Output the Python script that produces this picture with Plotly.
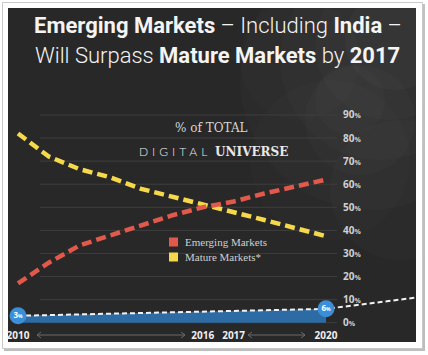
import plotly.graph_objects as go

# ---------------- data ----------------
years = [2010, 2011, 2012, 2013, 2014, 2015, 2016, 2017, 2018, 2019, 2020]
emerging = [17, 26, 33.5, 38, 42.5, 46.5, 50, 52.5, 56, 59, 62]
mature = [82, 72, 66.5, 63, 58, 54.5, 51.5, 48, 44.5, 41, 37.5]
digital_years = [2010, 2020, 2023]
digital = [3, 6, 11]
bubble_years = [2010, 2020]
bubble_values = [3, 6]
y_ticks = [0, 10, 20, 30, 40, 50, 60, 70, 80, 90]
x_ticks = [2010, 2016, 2017, 2020]
x_labels = ["2010", "2016", "2017", "2020"]
series_names = ["Emerging Markets", "Mature Markets*"]
series_colors = ["#e2594b", "#f6d94b"]

W, H = 428, 355
L, R, T, B = 8, 12, 8, 13
PW, PH = W - L - R, H - T - B


def PX(px):
    return (px - L) / PW


def PY(py):
    return (H - B - py) / PH


X_RANGE = [2009.675, 2022.922]
Y_RANGE = [-8.36, 136.35]

fig = go.Figure()

fig.add_trace(go.Scatter(x=bubble_years, y=bubble_values, mode="lines", fill="tozeroy",
                         fillcolor="#2c6ba3", line=dict(width=0, color="#2c6ba3"),
                         hoverinfo="skip", showlegend=False))
fig.add_trace(go.Scatter(x=digital_years, y=digital, mode="lines",
                         line=dict(color="#f2f2f2", width=2, dash="5px,3px"), showlegend=False))
fig.add_trace(go.Scatter(x=years, y=mature, mode="lines", name=series_names[1],
                         line=dict(color=series_colors[1], width=4.5, dash="10px,5px"), showlegend=False))
fig.add_trace(go.Scatter(x=years, y=emerging, mode="lines", name=series_names[0],
                         line=dict(color=series_colors[0], width=4.5, dash="10px,5px"), showlegend=False))
fig.add_trace(go.Scatter(x=bubble_years, y=bubble_values, mode="markers+text",
                         marker=dict(size=17, color="#3b8fd8"),
                         text=[f"<b>{v}<span style='font-size:5px'>%</span></b>" for v in bubble_values],
                         textposition="middle center",
                         textfont=dict(family="Open Sans", size=8, color="white"),
                         showlegend=False, cliponaxis=False))
# invisible trace to carry the right-hand percentage axis
fig.add_trace(go.Scatter(x=[years[0]], y=[y_ticks[0]], yaxis="y2", mode="markers",
                         marker=dict(opacity=0), hoverinfo="skip", showlegend=False))

shapes = []
shapes.append(dict(type="rect", xref="paper", yref="paper", x0=PX(4), x1=PX(425), y0=PY(351), y1=PY(4),
                   line=dict(width=0), fillcolor="#bdbdbd", layer="below"))
shapes.append(dict(type="rect", xref="paper", yref="paper", x0=PX(2.5), x1=PX(422.5), y0=PY(348.5), y1=PY(2.5),
                   line=dict(width=1, color="#c8c8c8"), fillcolor="white", layer="below"))
shapes.append(dict(type="rect", xref="paper", yref="paper", x0=0, x1=1, y0=0, y1=1,
                   line=dict(width=0), fillcolor="#282828", layer="below"))
for cx, cy, r, op in [(370, 80, 130, 0.015), (380, 60, 100, 0.015), (390, 45, 75, 0.015),
                      (395, 40, 50, 0.02), (330, 160, 80, 0.012), (400, 190, 70, 0.015),
                      (300, 60, 60, 0.012), (360, 120, 55, 0.015), (350, 100, 35, 0.015)]:
    shapes.append(dict(type="circle", xref="paper", yref="paper", x0=PX(cx - r), x1=PX(cx + r),
                       y0=PY(cy + r), y1=PY(cy - r), line=dict(width=0),
                       fillcolor=f"rgba(255,255,255,{op})", layer="below"))
for v in y_ticks:
    shapes.append(dict(type="line", xref="paper", yref="y", x0=PX(40), x1=PX(337), y0=v, y1=v,
                       line=dict(color="#3e3e3e", width=1), layer="below"))


def arrow(px0, px1, py):
    c = "#6a6a6a"
    shapes.append(dict(type="line", xref="paper", yref="paper", x0=PX(px0), x1=PX(px1), y0=PY(py), y1=PY(py),
                       line=dict(color=c, width=1)))
    shapes.append(dict(type="path", xref="paper", yref="paper",
                       path=f"M {PX(px0+4)} {PY(py-3)} L {PX(px0)} {PY(py)} L {PX(px0+4)} {PY(py+3)}",
                       line=dict(color=c, width=1)))
    shapes.append(dict(type="path", xref="paper", yref="paper",
                       path=f"M {PX(px1-4)} {PY(py-3)} L {PX(px1)} {PY(py)} L {PX(px1-4)} {PY(py+3)}",
                       line=dict(color=c, width=1)))


arrow(37, 185, 335)
arrow(248, 305, 335)

annotations = []
annotations.append(dict(
    xref="paper", yref="paper", x=PX(218), y=PY(26), showarrow=False, xanchor="center", yanchor="middle",
    text="<b>Emerging Markets</b> – Including <b>India</b> –",
    font=dict(family="Roboto", size=22, color="#f4f4f4", weight=300)))
annotations.append(dict(
    xref="paper", yref="paper", x=PX(218), y=PY(55), showarrow=False, xanchor="center", yanchor="middle",
    text="Will Surpass <b>Mature Markets</b> by <b>2017</b>",
    font=dict(family="Roboto", size=22, color="#f4f4f4", weight=300)))
annotations.append(dict(
    xref="paper", yref="paper", x=PX(211), y=PY(128), showarrow=False, xanchor="center", yanchor="middle",
    text="% of TOTAL", font=dict(family="DejaVu Serif", size=12, color="#d6d6d6")))
annotations.append(dict(
    xref="paper", yref="paper", x=PX(213), y=PY(151), showarrow=False, xanchor="center", yanchor="middle",
    text="<span style='font-family:Lato;font-weight:300;letter-spacing:4px'>DIGITAL</span> <b>UNIVERSE</b>",
    font=dict(family="DejaVu Serif", size=12, color="#e8e8e8")))

for i, (nm, col) in enumerate(zip(series_names, series_colors)):
    cy = 242 + 15 * i
    shapes.append(dict(type="rect", xref="paper", yref="paper", x0=PX(169), x1=PX(178), y0=PY(cy + 4.5),
                       y1=PY(cy - 4.5), fillcolor=col, line=dict(width=0)))
    annotations.append(dict(xref="paper", yref="paper", x=PX(183), y=PY(cy), showarrow=False,
                            xanchor="left", yanchor="middle", text=nm,
                            font=dict(family="Liberation Serif", size=11, color="#d0d0d0")))

fig.update_layout(
    width=W, height=H, margin=dict(l=L, r=R, t=T, b=B),
    paper_bgcolor="white", plot_bgcolor="rgba(0,0,0,0)",
    showlegend=False, shapes=shapes, annotations=annotations,
    xaxis=dict(domain=[0, 1], range=X_RANGE, anchor="free", position=PY(328), showgrid=False,
               zeroline=False, showline=False, tickvals=x_ticks, ticktext=[f"<b>{t}</b>" for t in x_labels],
               tickfont=dict(family="Open Sans", size=10, color="#f0f0f0"), ticks=""),
    yaxis=dict(domain=[0, 1], range=Y_RANGE, visible=False),
    yaxis2=dict(overlaying="y", range=Y_RANGE, anchor="free", position=PX(342), side="right",
                showgrid=False, zeroline=False, showline=False, tickvals=y_ticks,
                ticktext=[f"<b>{v}<span style='font-size:7px'>%</span></b>" for v in y_ticks],
                tickfont=dict(family="Open Sans", size=10, color="#d0d0d0"), ticks=""),
)

fig.write_html("out.html", config={"displayModeBar": False},
               post_script="document.body.style.margin='0';document.body.style.padding='0';")
